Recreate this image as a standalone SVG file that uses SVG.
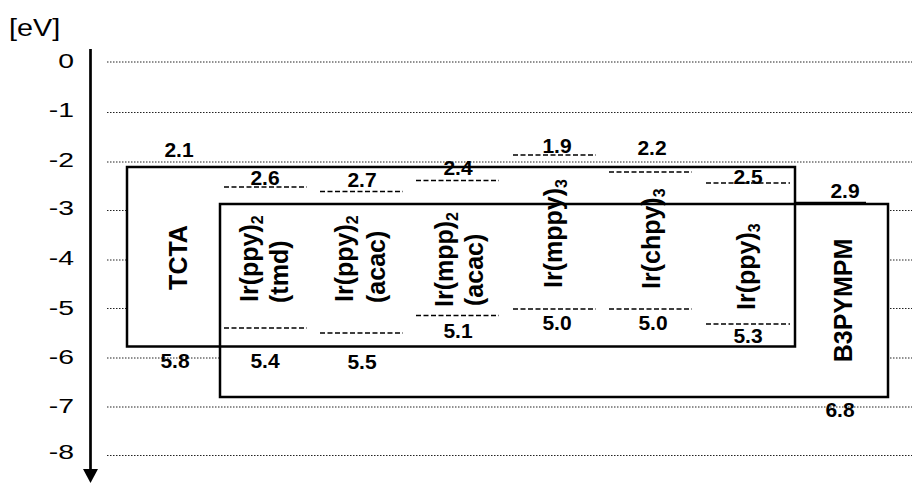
<svg xmlns="http://www.w3.org/2000/svg" width="912" height="483" viewBox="0 0 912 483">
<style>
  .grid{stroke:#222;stroke-width:1;stroke-dasharray:1.5 1.5;fill:none}
  .box{fill:none;stroke:#000;stroke-width:2.5}
  .lvl{stroke:#000;stroke-width:1.5;stroke-dasharray:5 2.5;fill:none}
  .tick{font-family:"Liberation Sans",Arial,sans-serif;font-size:21px;fill:#000;text-anchor:end}
  .val{font-family:"Liberation Sans",Arial,sans-serif;font-size:21px;font-weight:bold;fill:#000;text-anchor:middle}
  .vt{font-family:"Liberation Sans",Arial,sans-serif;font-size:25px;font-weight:bold;fill:#000}
  .sub{font-size:16px}
</style>
<rect width="912" height="483" fill="#fff"/>

<g id="axis">
  <text transform="translate(9,36) scale(1.2,1)" style="font-family:'Liberation Sans',Arial,sans-serif;font-size:24px">[eV]</text>
  <line x1="90.5" y1="49" x2="90.5" y2="472" stroke="#000" stroke-width="2.7"/>
  <path d="M83,469 L98,469 L90.5,483 Z" fill="#000"/>
  <text class="tick" transform="translate(74,68) scale(1.35,1)">0</text>
  <text class="tick" transform="translate(74,117) scale(1.35,1)">-1</text>
  <text class="tick" transform="translate(74,167) scale(1.35,1)">-2</text>
  <text class="tick" transform="translate(74,215) scale(1.35,1)">-3</text>
  <text class="tick" transform="translate(74,265) scale(1.35,1)">-4</text>
  <text class="tick" transform="translate(74,315) scale(1.35,1)">-5</text>
  <text class="tick" transform="translate(74,364) scale(1.35,1)">-6</text>
  <text class="tick" transform="translate(74,413) scale(1.35,1)">-7</text>
  <text class="tick" transform="translate(74,459) scale(1.35,1)">-8</text>
</g>

<g id="gridlines">
  <line class="grid" x1="107" y1="62" x2="912" y2="62"/>
  <line class="grid" x1="107" y1="112.5" x2="912" y2="112.5"/>
  <line class="grid" x1="107" y1="162" x2="912" y2="162"/>
  <line class="grid" x1="107" y1="210.5" x2="912" y2="210.5"/>
  <line class="grid" x1="107" y1="260" x2="912" y2="260"/>
  <line class="grid" x1="107" y1="308.5" x2="912" y2="308.5"/>
  <line class="grid" x1="107" y1="358" x2="912" y2="358"/>
  <line class="grid" x1="107" y1="407" x2="912" y2="407"/>
  <line class="grid" x1="107" y1="455.5" x2="912" y2="455.5"/>
</g>

<g id="box-fills">
  <rect x="127" y="167" width="668" height="179.5" fill="#fff"/>
  <rect x="220" y="204" width="668" height="193" fill="#fff"/>
</g>

<g id="TCTA">
  <rect class="box" x="127" y="167" width="668" height="179.5"/>
  <text class="val" x="179" y="157">2.1</text>
  <text class="val" x="175" y="368">5.8</text>
  <text class="vt" text-anchor="middle" transform="translate(187,257.5) rotate(-90)">TCTA</text>
</g>

<g id="B3PYMPM">
  <rect class="box" x="220" y="204" width="668" height="193"/>
  <line x1="795" y1="202.5" x2="866" y2="202.5" stroke="#000" stroke-width="1.5"/>
  <text class="val" x="845" y="198">2.9</text>
  <text class="val" x="840" y="417">6.8</text>
  <text class="vt" text-anchor="middle" transform="translate(852,300.5) rotate(-90)">B3PYMPM</text>
</g>

<g id="Ir-ppy2-tmd">
  <line class="lvl" x1="224" y1="187" x2="307" y2="187"/>
  <line class="lvl" x1="224" y1="328" x2="307" y2="328"/>
  <text class="val" x="265" y="185">2.6</text>
  <text class="val" x="265" y="368">5.4</text>
  <text class="vt" transform="translate(258,302) rotate(-90)">Ir(ppy)<tspan class="sub" dy="5">2</tspan></text>
  <text class="vt" transform="translate(288,303) rotate(-90)">(tmd)</text>
</g>

<g id="Ir-ppy2-acac">
  <line class="lvl" x1="320" y1="191.5" x2="403" y2="191.5"/>
  <line class="lvl" x1="320" y1="333" x2="403" y2="333"/>
  <text class="val" x="362" y="187">2.7</text>
  <text class="val" x="362" y="369">5.5</text>
  <text class="vt" transform="translate(353,302) rotate(-90)">Ir(ppy)<tspan class="sub" dy="5">2</tspan></text>
  <text class="vt" transform="translate(385,303) rotate(-90)">(acac)</text>
</g>

<g id="Ir-mpp2-acac">
  <line class="lvl" x1="416" y1="180.5" x2="499" y2="180.5"/>
  <line class="lvl" x1="416" y1="315.5" x2="499" y2="315.5"/>
  <text class="val" x="458" y="175">2.4</text>
  <text class="val" x="458" y="338">5.1</text>
  <text class="vt" transform="translate(453,307) rotate(-90)">Ir(mpp)<tspan class="sub" dy="5">2</tspan></text>
  <text class="vt" transform="translate(483,306) rotate(-90)">(acac)</text>
</g>

<g id="Ir-mppy3">
  <line class="lvl" x1="513" y1="155" x2="596" y2="155"/>
  <line class="lvl" x1="513" y1="309" x2="596" y2="309"/>
  <text class="val" x="557" y="153">1.9</text>
  <text class="val" x="557" y="330">5.0</text>
  <text class="vt" transform="translate(562,288) rotate(-90)">Ir(mppy)<tspan class="sub" dy="5">3</tspan></text>
</g>

<g id="Ir-chpy3">
  <line class="lvl" x1="609" y1="172" x2="692" y2="172"/>
  <line class="lvl" x1="609" y1="309" x2="692" y2="309"/>
  <text class="val" x="652" y="155">2.2</text>
  <text class="val" x="653" y="330">5.0</text>
  <text class="vt" transform="translate(660,289) rotate(-90)">Ir(chpy)<tspan class="sub" dy="5">3</tspan></text>
</g>

<g id="Ir-ppy3">
  <line class="lvl" x1="706" y1="183" x2="790" y2="183"/>
  <line class="lvl" x1="706" y1="324" x2="790" y2="324"/>
  <text class="val" x="748" y="184">2.5</text>
  <text class="val" x="748" y="343">5.3</text>
  <text class="vt" transform="translate(755,310) rotate(-90)">Ir(ppy)<tspan class="sub" dy="5">3</tspan></text>
</g>

<g id="connectors"></g>
</svg>
